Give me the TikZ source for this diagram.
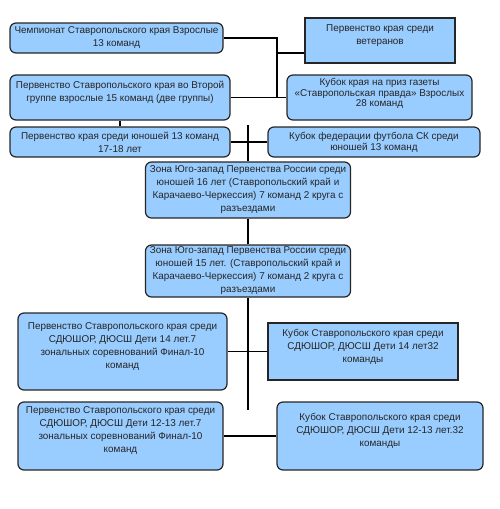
\documentclass[tikz,border=0pt]{standalone}
\usepackage{fontspec}
\setmainfont{Liberation Sans}
\usepackage{xcolor}
\usepackage{tikz}
\definecolor{boxblue}{RGB}{153,204,255}
\newcommand{\lift}{\\[-1pt]\mbox{}}

\begin{document}
\begin{tikzpicture}[
  x=1pt, y=-1pt,
  blk/.style={rectangle, rounded corners=6pt, draw=black!85, line width=1.2pt, fill=boxblue, align=center, inner sep=1pt, text=black!85, font=\fontsize{9.9}{13}\selectfont},
  sqblk/.style={blk, sharp corners},
  wh/.style 2 args={minimum width=#1pt, minimum height=#2pt},
  link/.style={draw=black, line width=1.5pt}
]
  \useasboundingbox (0,0) rectangle (500,509);

  % Adults
  \node[blk, wh={213}{30}] (champ) at (116.5,38) {Чемпионат Ставропольского края Взрослые\\13 команд};
  \node[sqblk, wh={150}{45}] (vet) at (380,40.5) {Первенство края среди\\ветеранов\lift};
  \node[blk, wh={220}{45}] (second) at (120,97.5) {Первенство Ставропольского края во Второй\\группе  взрослые 15 команд (две группы)\lift};
  \node[blk, wh={185}{45}, font=\fontsize{9.9}{10.5}\selectfont] (cup) at (379.5,97.5) {Кубок края на приз газеты\\«Ставропольская правда» Взрослых\\28 команд\lift};

  % Youth
  \node[blk, wh={220}{30}] (youth) at (120,142) {Первенство края среди юношей 13 команд\\17-18 лет};
  \node[blk, wh={212}{30}, font=\fontsize{9.9}{11}\selectfont] (fed) at (374,142) {Кубок федерации футбола СК среди\\юношей  13 команд};
  \node[blk, wh={205}{56}] (zone16) at (248,190) {Зона Юго-запад Первенства России среди\\юношей 16 лет (Ставропольский край и\\Карачаево-Черкессия) 7 команд 2 круга с\\разъездами};
  \node[blk, wh={205}{52}] (zone15) at (248,271) {Зона Юго-запад Первенства России среди\\юношей 15 лет. (Ставропольский край и\\Карачаево-Черкессия) 7 команд 2 круга с\\разъездами};

  % Children
  \node[blk, wh={209}{77}] (ch14) at (122.5,351.5) {Первенство Ставропольского края среди\\СДЮШОР, ДЮСШ Дети 14 лет.7\\зональных соревнований Финал-10\\команд\lift};
  \node[sqblk, wh={190}{57}] (cup14) at (363,351.5) {Кубок Ставропольского края среди\\СДЮШОР, ДЮСШ Дети 14 лет32\\команды\lift};
  \node[blk, wh={205}{68}] (ch12) at (120.5,436) {Первенство Ставропольского края среди\\СДЮШОР, ДЮСШ Дети 12-13 лет.7\\зональных соревнований Финал-10\\команд\lift};
  \node[blk, wh={206}{68}] (cup12) at (380,436) {Кубок Ставропольского края среди\\СДЮШОР, ДЮСШ Дети 12-13 лет.32\\команды\lift};

  % Connectors
  \coordinate (jt) at (277,38);
  \coordinate (jv) at (277,53);
  \coordinate (jb) at (277,97.5);
  \coordinate (jy) at (248,125);
  \coordinate (jd) at (248,410);
  \draw[link] (champ.east) -- (jt) -- (jb);
  \draw[link] (jv) -- (jv -| vet.west);
  \draw[link] (second.east) -- (cup.west);
  \draw[link] (second.south) -- (youth.north);
  \draw[link] (youth.east) -- (fed.west);
  \draw[link] (jy) -- (zone16.north);
  \draw[link] (zone16.south) -- (zone15.north);
  \draw[link] (zone15.south) -- (jd);
  \draw[link] (ch14.east) -- (cup14.west);
  \draw[link] (ch12.east) -- (cup12.west);
\end{tikzpicture}
\end{document}
